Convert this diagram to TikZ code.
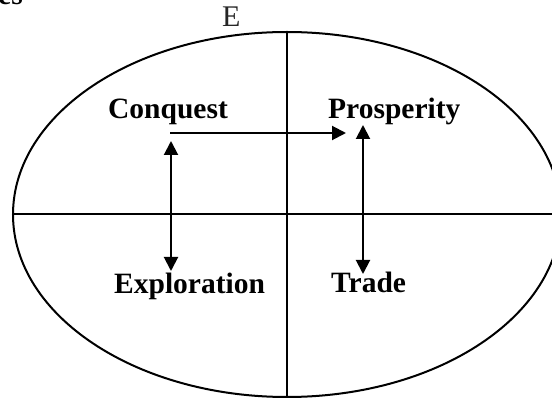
\documentclass[tikz,border=0pt]{standalone}
\usepackage{fontspec}
\setmainfont{Liberation Serif}
\usetikzlibrary{shapes.geometric,arrows.meta}
\begin{document}
\begin{tikzpicture}[x=1pt,y=-1pt,
  ln/.style={line width=2pt},
  arr/.style={line width=2pt,-{Triangle[length=14pt,width=14pt]}},
  darr/.style={line width=2pt,{Triangle[length=14pt,width=14pt]}-{Triangle[length=14pt,width=14pt]}},
  lbl/.style={anchor=base west,inner sep=0pt,font=\fontsize{29.5}{34}\selectfont\bfseries}]
\useasboundingbox (0,0) rectangle (552,398);
\node[draw,ellipse,ln,minimum width=548pt,minimum height=365pt,inner sep=0pt,outer sep=0pt] (ell) at (287,214.5) {};
\draw[ln] (ell.north) -- (ell.south);
\draw[ln] (ell.west) -- (ell.east);
\node[anchor=base west,inner sep=0pt,text=black!85,font=\fontsize{30}{34}\selectfont] (e) at (222,27) {E};
\node[lbl] (es) at (-2,5) {es};
\node[lbl] (conq) at (108,119) {Conquest};
\node[lbl] (pros) at (328,119) {Prosperity};
\node[lbl] (expl) at (114,294) {Exploration};
\node[lbl] (trade) at (331,293) {Trade};
\coordinate (h1) at (170,133);
\coordinate (h2) at (346,133);
\coordinate (l1) at (171,141);
\coordinate (l2) at (171,271);
\coordinate (r1) at (363,125);
\coordinate (r2) at (363,274);
\draw[arr] (h1) -- (h2);
\draw[darr] (l1) -- (l2);
\draw[darr] (r1) -- (r2);
\end{tikzpicture}
\end{document}
